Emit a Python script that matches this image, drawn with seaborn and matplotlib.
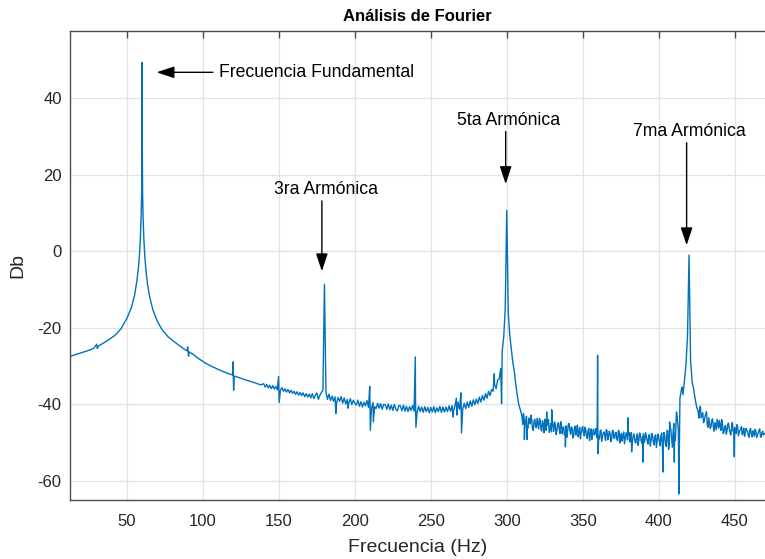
import numpy as np
import pandas as pd
import matplotlib
matplotlib.use("Agg")
import matplotlib.pyplot as plt
import seaborn as sns

# ---- spectrum: smooth part around the 60 Hz fundamental (hand-picked points) ----
f_low = [12.5, 16, 20, 24, 28, 30, 30.5, 31, 34, 38, 42, 46, 50, 53, 55, 56.5, 57.5,
         58.3, 58.9, 59.4, 59.7, 59.9, 60, 60.1, 60.3, 60.6, 61.1, 61.7, 62.5, 63.5,
         65, 67, 70, 73, 77, 82, 87, 89.5, 90, 90.5, 91, 93, 97, 102, 107, 112, 117,
         119.5, 119.8, 120.2, 120.6, 123, 128, 133, 138]
db_low = [-27.5, -27.0, -26.5, -26.0, -25.4, -24.3, -25.4, -24.8, -24.1, -23.1, -22.0,
          -20.3, -17.5, -14.6, -11.5, -7.8, -4.5, -0.5, 4.0, 10.0, 16.0, 27.0, 49.4,
          27.0, 15.0, 9.0, 3.5, -1.0, -5.0, -8.5, -12.0, -15.2, -18.3, -20.4, -22.3,
          -23.9, -25.4, -26.0, -25.0, -27.4, -26.3, -26.8, -28.0, -29.3, -30.3, -31.2,
          -32.0, -32.3, -28.9, -36.3, -32.6, -32.9, -33.6, -34.2, -34.9]

# ---- 1 Hz samples, 140 .. 300 Hz (3rd harmonic at 180, 5th at 300) ----
f_mid_start, f_mid_stop = 140, 300
db_mid = [
    -34.6, -35.5, -34.8, -35.7, -35.0, -35.9, -35.1, -36.0, -35.3, -36.2,
    -35.7, -36.3, -35.6, -36.6, -35.9, -36.8, -36.1, -37.0, -36.3, -37.1,
    -36.6, -37.4, -36.7, -37.6, -36.9, -37.7, -37.0, -38.0, -37.2, -38.1,
    -37.3, -38.3, -37.2, -38.5, -37.6, -37.0, -38.7, -37.6, -36.9, -36.3,
    -8.6, -36.8, -38.7, -37.3, -39.0, -37.8, -39.2, -38.0, -39.5, -38.2,
    -39.2, -38.0, -39.7, -38.3, -39.9, -38.7, -39.7, -38.5, -40.1, -38.9,
    -39.7, -40.2, -38.9, -40.5, -39.3, -40.7, -39.4, -40.4, -39.0, -40.8,
    -39.6, -40.9, -39.5, -40.6, -41.1, -39.7, -41.0, -39.8, -41.3, -40.0,
    -40.1, -41.3, -39.9, -41.4, -40.2, -41.6, -40.0, -41.3, -41.7, -40.3,
    -40.4, -41.7, -40.2, -41.8, -40.5, -41.9, -40.6, -41.6, -40.3, -41.8,
    -40.7, -42.0, -40.5, -41.9, -40.7, -42.1, -40.6, -41.9, -40.8, -42.2,
    -40.8, -42.0, -40.6, -42.2, -40.9, -41.9, -40.5, -42.1, -40.7, -42.0,
    -40.7, -41.9, -40.4, -41.8, -40.3, -41.7, -40.2, -41.5, -39.4, -41.3,
    -40.2, -41.3, -39.7, -41.1, -39.4, -40.8, -39.1, -40.5, -38.8, -40.1,
    -38.6, -39.8, -38.1, -39.4, -37.7, -38.9, -37.2, -38.4, -36.6, -37.7,
    -36.1, -36.6, -34.8, -35.9, -33.6, -33.4, -30.6, -26.0, -22.5, -15.0,
    10.7,
]

# ---- 1 Hz samples, 301 .. 470 Hz (7th harmonic at 420) ----
f_high_start, f_high_stop = 301, 470
db_high = [
    -16.0, -22.0, -25.5, -29.0, -31.5, -35.0, -37.8, -40.2, -41.5,
    -43.0, -42.4, -45.6, -43.1, -46.2, -44.0, -42.8, -46.5, -44.3, -45.8,
    -43.6, -46.4, -44.1, -47.0, -45.2, -43.9, -46.8, -44.6, -47.3, -45.0,
    -44.2, -47.1, -45.5, -46.9, -44.8, -47.6, -45.3, -46.2, -48.0, -45.6,
    -47.2, -45.0, -47.8, -46.1, -48.3, -45.7, -47.0, -48.5, -46.0, -47.4,
    -45.8, -48.2, -46.6, -48.9, -46.3, -47.8, -49.2, -46.5, -48.0, -47.1,
    -47.5, -49.0, -46.7, -48.6, -47.2, -49.4, -46.9, -48.3, -47.6, -49.1,
    -46.8, -48.8, -47.3, -49.5, -47.0, -48.4, -49.6, -47.2, -48.9, -47.5,
    -48.1, -49.8, -47.4, -49.0, -48.3, -50.1, -47.7, -49.3, -48.0, -50.2,
    -47.6, -49.1, -48.5, -50.4, -47.9, -49.6, -48.2, -50.6, -48.0, -49.5,
    -48.6, -50.8, -47.5, -50.3, -48.2, -51.0, -47.0, -50.5, -46.5, -51.2,
    -45.0, -49.5, -42.5, -47.0, -38.5, -36.0, -37.5, -33.7, -29.4, -22.0,
    -1.0,
    -28.5, -34.0, -36.0, -38.5, -40.7, -42.0, -41.0, -43.5, -42.2,
    -44.4, -42.5, -45.3, -43.5, -46.3, -44.0, -46.0, -44.8, -46.6, -45.0,
    -44.2, -46.8, -45.1, -47.2, -45.5, -46.9, -44.9, -47.4, -45.8, -47.0,
    -46.0, -47.6, -45.9, -47.3, -46.5, -47.9, -46.2, -47.5, -46.8, -48.1,
    -46.7, -47.8, -46.9, -48.3, -47.0, -47.9, -46.8, -48.4, -47.3, -48.0,
    -47.6,
]

# ---- half-Hz samples filling the noisy floor above the 5th harmonic ----
f_half_a_start, f_half_a_stop = 310.5, 411.5
db_half_a = [
    -45.2, -43.8, -44.5, -45.9, -43.6, -45.1, -44.2, -46.8, -43.9, -46.1,
    -45.0, -43.7, -46.5, -44.3, -47.4, -44.8, -45.5, -44.0, -46.3, -47.2,
    -45.6, -44.6, -47.9, -45.1, -46.4, -44.5, -47.7, -45.9, -47.3, -48.6,
    -45.3, -46.7, -45.9, -48.8, -46.2, -48.0, -45.4, -47.5, -49.0, -46.3,
    -47.6, -46.0, -48.4, -46.9, -49.5, -46.4, -48.1, -47.8, -46.3, -48.7,
    -48.3, -46.9, -49.7, -47.5, -48.0, -46.6, -49.3, -47.0, -49.8, -46.9,
    -48.9, -47.4, -49.2, -46.8, -50.1, -47.6, -48.1, -50.3, -47.5, -49.3,
    -47.3, -48.8, -50.4, -47.7, -49.9, -48.6, -50.7, -47.5, -49.6, -48.4,
    -50.0, -47.4, -49.7, -48.1, -50.9, -47.6, -49.9, -48.3, -51.3, -47.8,
    -49.9, -48.2, -51.5, -47.3, -50.6, -46.8, -51.8, -45.9, -49.0, -47.3,
    -47.8, -44.6,
]
f_half_b_start, f_half_b_stop = 425.5, 469.5
db_half_b = [
    -41.2, -43.6, -40.5, -42.9, -44.8, -43.2, -41.9, -46.0, -44.9, -45.7,
    -43.8, -47.0, -45.4, -43.9, -46.2, -45.7, -44.0, -47.6, -45.8, -47.8,
    -45.2, -46.5, -48.0, -44.7, -46.6, -47.2, -45.3, -48.2, -46.8, -45.8,
    -47.4, -48.4, -46.3, -47.0, -48.6, -46.3, -48.5, -47.2, -46.5, -48.7,
    -47.5, -46.4, -48.6, -47.0, -47.7,
]

# ---- isolated spikes riding on the noise floor ----
f_spk = [149.8, 150.2, 187.5, 195.5, 209.8, 210.2, 212.2, 239.8, 240.2, 264.8,
         266.8, 267.2, 269.8, 270.2, 291.8, 296.6, 311.6, 313.4, 326.3, 329.6,
         338.6, 359.8, 360.2, 379.8, 382.2, 389.7, 402.9, 407.2, 410.3, 411.7,
         413.3, 415.5, 449.8]
db_spk = [-32.7, -39.5, -42.4, -41.0, -35.3, -46.8, -44.6, -27.6, -46.0, -43.3,
          -38.4, -42.8, -37.0, -47.5, -32.0, -39.8, -49.2, -49.2, -42.0, -41.4,
          -51.1, -27.2, -52.9, -43.5, -52.4, -55.1, -57.7, -44.6, -55.1, -42.0,
          -63.4, -35.5, -53.7]

# ---- labels / annotations ----
title = "Análisis de Fourier"
xlabel = "Frecuencia (Hz)"
ylabel = "Db"
x_ticks = [50, 100, 150, 200, 250, 300, 350, 400, 450]
y_ticks = [-60, -40, -20, 0, 20, 40]
notes = [
    # text, text position (Hz, dB), arrow tail, arrow head, text alignment
    ("Frecuencia Fundamental", (110.5, 46.8), (106.6, 46.8), (69.5, 46.8), "left"),
    ("3ra Armónica", (181.0, 16.2), (178.3, 13.2), (178.3, -5.2), "center"),
    ("5ta Armónica", (301.3, 34.2), (299.3, 31.3), (299.3, 17.6), "center"),
    ("7ma Armónica", (420.4, 31.4), (418.4, 28.4), (418.4, 1.6), "center"),
]

freq = np.concatenate([
    f_low,
    np.arange(f_mid_start, f_mid_stop + 1),
    np.arange(f_high_start, f_high_stop + 1),
    np.arange(f_half_a_start, f_half_a_stop + 1),
    np.arange(f_half_b_start, f_half_b_stop + 1),
    f_spk,
])
mag = np.concatenate([db_low, db_mid, db_high, db_half_a, db_half_b, db_spk])
df = pd.DataFrame({"f": freq, "db": mag}).sort_values("f")

sns.set_theme(style="white")
plt.rcParams["font.family"] = ["Liberation Sans", "DejaVu Sans"]
plt.rcParams["axes.unicode_minus"] = False

fig = plt.figure(figsize=(7.65, 5.59), dpi=100)
ax = fig.add_axes([70 / 765, 59 / 559, 1 - 70 / 765, 469 / 559])

sns.lineplot(data=df, x="f", y="db", ax=ax, color="#0072BD", linewidth=1.0,
             estimator=None, sort=True)

ax.set_xlim(12.5, 470)
ax.set_ylim(-65, 57.6)
ax.set_xticks(x_ticks)
ax.set_yticks(y_ticks)
ax.grid(True, color="#e3e3e3", linewidth=0.9)
ax.set_axisbelow(True)
for side in ["left", "bottom", "top"]:
    ax.spines[side].set_color("#4d4d4d")
    ax.spines[side].set_linewidth(1.0)
ax.spines["right"].set_visible(False)
ax.tick_params(axis="both", direction="in", length=5, width=1.0, color="#4d4d4d",
               labelsize=12, labelcolor="#262626", top=True)
ax.tick_params(axis="x", pad=10)
ax.tick_params(axis="y", pad=6)

ax.set_xlabel(xlabel, fontsize=14, color="#262626", labelpad=7)
ax.set_ylabel(ylabel, fontsize=14, color="#262626", labelpad=8)
ax.set_title(title, fontsize=12, fontweight="bold", color="black", pad=7,
             x=(417.5 - 70) / 695)

for text, txy, tail, head, ha in notes:
    ax.text(txy[0], txy[1], text, ha=ha, va="center", fontsize=12.7, color="black")
    ax.annotate("", xy=head, xytext=tail,
                arrowprops=dict(arrowstyle="-|>,head_length=0.9,head_width=0.3",
                                color="black", lw=1.0, shrinkA=0, shrinkB=0))

fig.savefig("out.png", dpi=100)
